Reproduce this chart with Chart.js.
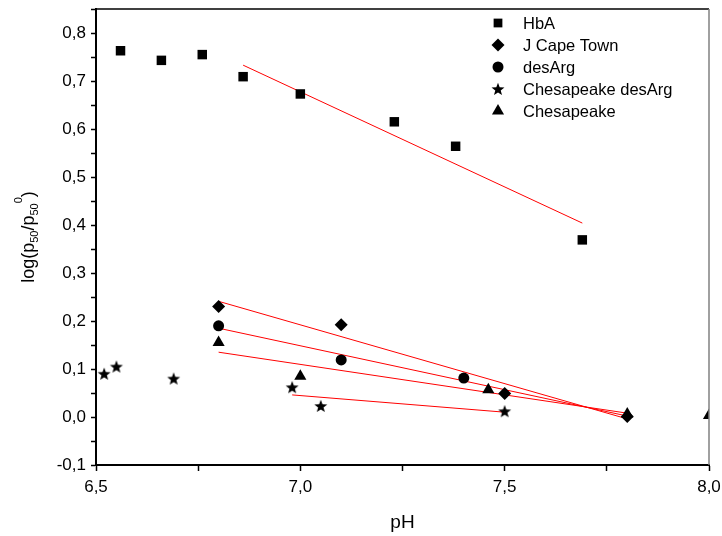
<!DOCTYPE html>
<html>
<head>
<meta charset="utf-8">
<script src="https://cdn.jsdelivr.net/npm/chart.js@4"></script>
<style>
  html, body { margin: 0; padding: 0; background: #fff; }
  canvas { display: block; }
</style>
</head>
<body>
<canvas id="chart" width="722" height="536"></canvas>
<script>
// measured points
const hbaPH = [6.56, 6.66, 6.76, 6.86, 7.00, 7.23, 7.38, 7.69];
const hbaLog = [0.763, 0.743, 0.755, 0.709, 0.673, 0.615, 0.564, 0.369];
const capePH = [6.80, 7.10, 7.50, 7.80];
const capeLog = [0.230, 0.192, 0.049, 0.001];
const desArgPH = [6.80, 7.10, 7.40];
const desArgLog = [0.190, 0.119, 0.081];
const chesDesPH = [6.52, 6.55, 6.69, 6.98, 7.05, 7.50];
const chesDesLog = [0.090, 0.105, 0.080, 0.062, 0.023, 0.012];
const chesPH = [6.80, 7.00, 7.46, 7.80, 8.00];
const chesLog = [0.155, 0.085, 0.057, 0.006, 0.003];

// linear fits (end points)
const fitHbaPH = [6.86, 7.69];
const fitHbaLog = [0.733, 0.404];
const fitCapePH = [6.80, 7.80];
const fitCapeLog = [0.241, -0.004];
const fitDesArgPH = [6.80, 7.80];
const fitDesArgLog = [0.185, 0.002];
const fitChesPH = [6.80, 7.80];
const fitChesLog = [0.135, 0.008];
const fitChesDesPH = [6.98, 7.50];
const fitChesDesLog = [0.046, 0.010];

const seriesLabels = ['HbA', 'J Cape Town', 'desArg', 'Chesapeake desArg', 'Chesapeake'];
const xTitle = 'pH';
const yTitleParts = [['log(p', 'n'], ['50', 'sub'], ['/p', 'n'], ['50', 'sub'], ['0', 'sup'], [')', 'n']];

const FONT = '"Liberation Sans", Arial, sans-serif';

function pts(xs, ys) {
    return xs.map((x, i) => ({x: x, y: ys[i]}));
}

function makeStar(r) {
    const c = document.createElement('canvas');
    const s = Math.ceil(r * 2 + 2);
    c.width = s;
    c.height = s;
    const g = c.getContext('2d');
    g.fillStyle = '#000';
    g.beginPath();
    for (let i = 0; i < 10; i++) {
        const a = -Math.PI / 2 + i * Math.PI / 5;
        const rr = i % 2 ? r * 0.42 : r;
        const px = s / 2 + Math.cos(a) * rr;
        const py = s / 2 + 0.6 + Math.sin(a) * rr;
        if (i === 0) g.moveTo(px, py); else g.lineTo(px, py);
    }
    g.closePath();
    g.fill();
    return c;
}

const star = makeStar(6.8);

function markerSet(label, data, style, radius) {
    return {
        label: label,
        data: data,
        pointStyle: style,
        pointRadius: radius,
        pointBackgroundColor: '#000',
        pointBorderColor: '#000',
        pointBorderWidth: 0,
        showLine: false
    };
}

function fitSet(data) {
    return {
        label: 'fit',
        data: data,
        showLine: true,
        borderColor: '#ff0000',
        borderWidth: 1,
        pointRadius: 0,
        fill: false
    };
}

const markerSets = [
    markerSet(seriesLabels[0], pts(hbaPH, hbaLog), 'rect', 6.7),
    markerSet(seriesLabels[1], pts(capePH, capeLog), 'rectRot', 6.5),
    markerSet(seriesLabels[2], pts(desArgPH, desArgLog), 'circle', 5.5),
    markerSet(seriesLabels[3], pts(chesDesPH, chesDesLog), star, 7),
    markerSet(seriesLabels[4], pts(chesPH, chesLog), 'triangle', 7)
];

const fitSets = [
    fitSet(pts(fitHbaPH, fitHbaLog)),
    fitSet(pts(fitCapePH, fitCapeLog)),
    fitSet(pts(fitDesArgPH, fitDesArgLog)),
    fitSet(pts(fitChesPH, fitChesLog)),
    fitSet(pts(fitChesDesPH, fitChesDesLog))
];

function comma(v) {
    if (Math.abs(v) < 1e-9) v = 0;
    return v.toFixed(1).replace('.', ',');
}

function noPad(scale) {
    scale.paddingTop = 0;
    scale.paddingBottom = 0;
    scale.paddingLeft = 0;
    scale.paddingRight = 0;
}

const framePlugin = {
    id: 'frame',
    afterDraw(chart) {
        const {ctx, chartArea: a} = chart;
        ctx.save();
        ctx.lineWidth = 1.5;
        ctx.strokeStyle = '#000';
        ctx.beginPath();
        ctx.moveTo(a.left, a.top);
        ctx.lineTo(a.right, a.top);
        ctx.stroke();
        ctx.strokeStyle = '#808080';
        ctx.beginPath();
        ctx.moveTo(a.right, a.top);
        ctx.lineTo(a.right, a.bottom);
        ctx.stroke();

        // legend
        ctx.font = '16.5px ' + FONT;
        ctx.textBaseline = 'middle';
        ctx.textAlign = 'left';
        markerSets.forEach((ds, i) => {
            const y = 23 + i * 22;
            ctx.fillStyle = '#000';
            ctx.strokeStyle = '#000';
            Chart.helpers.drawPoint(ctx, {
                pointStyle: ds.pointStyle,
                radius: ds.pointStyle === 'rect' ? 6.2 : ds.pointRadius,
                rotation: 0,
                borderWidth: 0
            }, 498, y);
            ctx.fillStyle = '#000';
            ctx.fillText(ds.label, 523, y + 1);
        });

        // y axis title with sub/superscripts
        const big = 18, small = 11;
        let total = 0;
        yTitleParts.forEach(p => {
            ctx.font = (p[1] === 'n' ? big : small) + 'px ' + FONT;
            total += ctx.measureText(p[0]).width;
        });
        ctx.translate(34, (a.top + a.bottom) / 2);
        ctx.rotate(-Math.PI / 2);
        ctx.textBaseline = 'alphabetic';
        let x = -total / 2;
        yTitleParts.forEach(p => {
            ctx.font = (p[1] === 'n' ? big : small) + 'px ' + FONT;
            const dy = p[1] === 'sub' ? 4 : (p[1] === 'sup' ? -12 : 0);
            ctx.fillText(p[0], x, dy);
            x += ctx.measureText(p[0]).width;
        });
        ctx.restore();
    }
};

new Chart(document.getElementById('chart'), {
    type: 'scatter',
    data: {
        datasets: markerSets.concat(fitSets)
    },
    options: {
        responsive: false,
        animation: false,
        layout: {
            padding: {top: 9, right: 13, left: 0, bottom: 0}
        },
        plugins: {
            legend: {display: false},
            tooltip: {enabled: false}
        },
        scales: {
            x: {
                type: 'linear',
                min: 6.5,
                max: 8.0,
                afterFit: scale => { scale.height = 71; noPad(scale); },
                ticks: {
                    stepSize: 0.25,
                    autoSkip: false,
                    maxRotation: 0,
                    padding: 6,
                    color: '#000',
                    font: {family: FONT, size: 17},
                    callback: v => Math.abs(v * 2 - Math.round(v * 2)) < 1e-6 ? comma(v) : ''
                },
                grid: {
                    drawOnChartArea: false,
                    drawTicks: true,
                    tickLength: 6,
                    tickWidth: 1.5,
                    color: '#000'
                },
                border: {color: '#000', width: 2},
                title: {
                    display: true,
                    text: xTitle,
                    color: '#000',
                    font: {family: FONT, size: 19},
                    padding: {top: 0, bottom: 2}
                }
            },
            y: {
                type: 'linear',
                min: -0.1,
                max: 0.85,
                afterFit: scale => { scale.width = 96; noPad(scale); },
                ticks: {
                    stepSize: 0.05,
                    autoSkip: false,
                    padding: 5,
                    color: '#000',
                    font: {family: FONT, size: 17},
                    callback: v => Math.abs(v * 10 - Math.round(v * 10)) < 1e-6 ? comma(v) : ''
                },
                grid: {
                    drawOnChartArea: false,
                    drawTicks: true,
                    tickLength: 5,
                    tickWidth: 1.5,
                    color: '#000'
                },
                border: {color: '#000', width: 2}
            }
        }
    },
    plugins: [framePlugin]
});
</script>
</body>
</html>
